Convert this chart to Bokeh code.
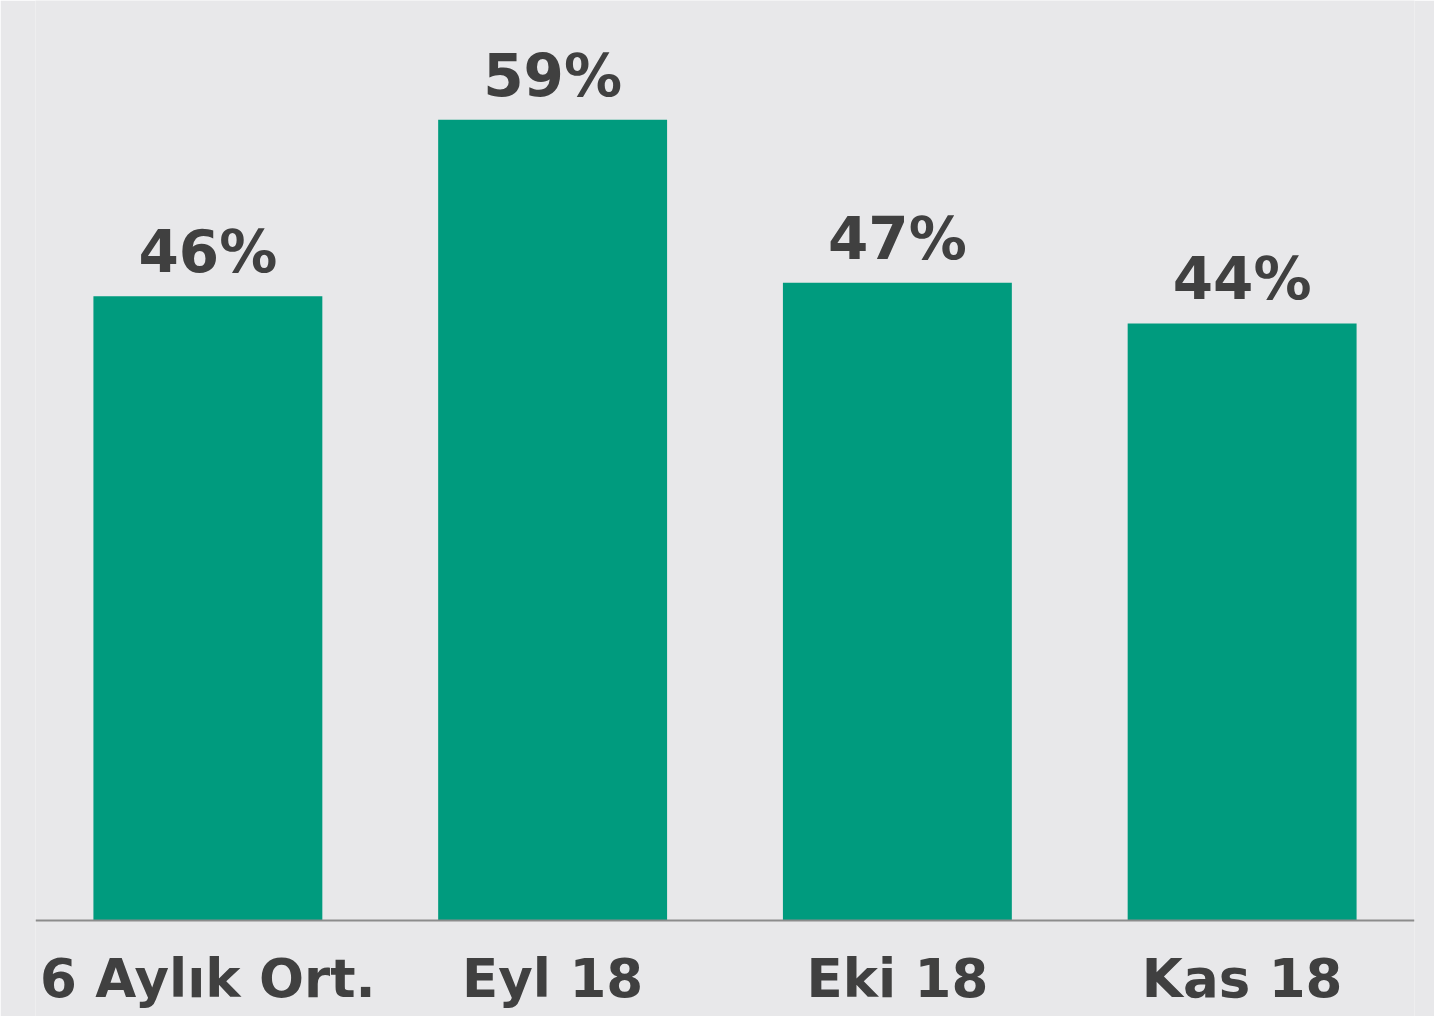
from bokeh.plotting import figure
from bokeh.models import ColumnDataSource, Range1d, FactorRange, Span
from bokeh.core.properties import value
from bokeh.embed import file_html
from bokeh.resources import INLINE

categories = ["6 Aylık Ort.", "Eyl 18", "Eki 18", "Kas 18"]
values = [46, 59, 47, 44]
labels = [f"{v}%" for v in values]

BG = "#e8e8ea"
BAR = "#009b7e"
TXT = "#404040"
FONT = "DejaVu Sans"

PX_PER_UNIT = 13.57          # pixels per percentage point
LABEL_PAD = 44 / PX_PER_UNIT  # gap between bar top and value label anchor
CAT_DROP = 58 / PX_PER_UNIT   # category label anchor below the axis line

src = ColumnDataSource(dict(cat=categories, val=values, lab=labels,
                            ly=[v + LABEL_PAD for v in values]))
cat_src = ColumnDataSource(dict(cat=categories, cy=[-CAT_DROP] * len(categories)))

p = figure(width=1434, height=1016, x_range=FactorRange(*categories),
           y_range=Range1d(-96 / PX_PER_UNIT, 920 / PX_PER_UNIT),
           output_backend="svg", toolbar_location=None,
           min_border_left=35, min_border_right=20, min_border_top=0, min_border_bottom=0)
p.background_fill_color = BG
p.border_fill_color = BG
p.outline_line_color = None
p.grid.visible = False
p.xaxis.visible = False
p.yaxis.visible = False
p.x_range.range_padding = 0

p.vbar(x="cat", top="val", bottom=0, width=0.664, source=src, color=BAR, line_color=None)
p.add_layout(Span(location=0, dimension="width", line_color="#8c8c8c", line_width=2))

p.text(x="cat", y="ly", text="lab", source=src,
       text_align="center", text_baseline="alphabetic",
       text_font=value(FONT), text_font_style="bold", text_font_size="58px",
       text_color=TXT)
p.text(x="cat", y="cy", text="cat", source=cat_src,
       text_align="center", text_baseline="alphabetic",
       text_font=value(FONT), text_font_style="bold", text_font_size="53px",
       text_color=TXT)

open("out.html", "w").write(file_html(p, INLINE))
